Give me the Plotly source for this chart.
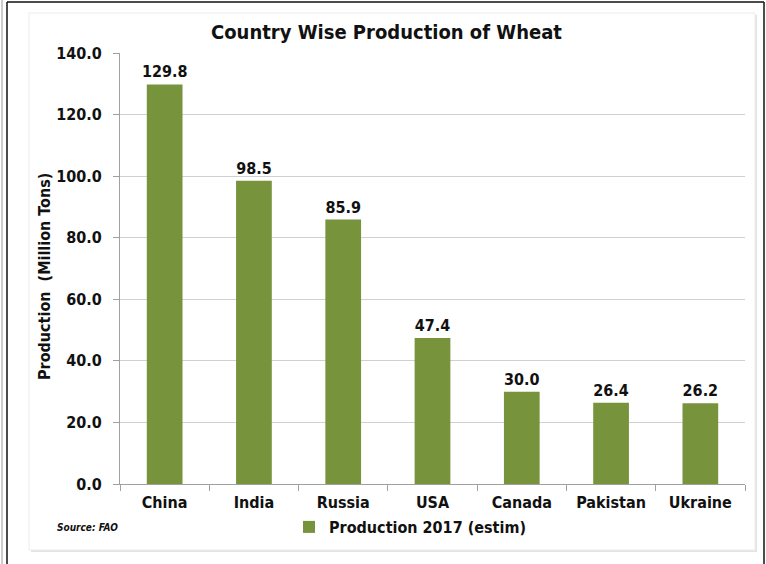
import plotly.graph_objects as go

countries = ["China", "India", "Russia", "USA", "Canada", "Pakistan", "Ukraine"]
production = [129.8, 98.5, 85.9, 47.4, 30.0, 26.4, 26.2]
series_name = "Production 2017 (estim)"
y_ticks = [0, 20, 40, 60, 80, 100, 120, 140]

W, H = 766, 564
ML, MR, MT, MB = 120, 21, 53, 80
PW, PH = W - ML - MR, H - MT - MB

def px(x):
    return (x - ML) / PW

def py(y):
    return (H - MB - y) / PH

FONT = "DejaVu Sans Condensed, Liberation Sans Narrow, Arial Narrow, sans-serif"
GREEN = "#77933C"

fig = go.Figure()
fig.add_trace(go.Bar(
    x=countries, y=production, name=series_name,
    marker=dict(color=GREEN, line=dict(width=0)),
    width=0.4,
    text=[f"{v:.1f}" for v in production],
    textposition="outside",
    constraintext="none",
    textfont=dict(family=FONT, size=16, color="#111111"),
    cliponaxis=False,
    showlegend=True,
    hoverinfo="skip",
))

shapes = [
    # panel shadow
    dict(type="rect", xref="paper", yref="paper", layer="below",
         x0=px(31), x1=px(757), y0=py(552), y1=py(15),
         line=dict(width=0), fillcolor="#e4e4e4"),
    dict(type="rect", xref="paper", yref="paper", layer="below",
         x0=px(29), x1=px(755), y0=py(550), y1=py(13),
         line=dict(width=1, color="#ececec"), fillcolor="white"),
    # outer frame
    dict(type="line", xref="paper", yref="paper", x0=px(2), x1=px(2), y0=py(564), y1=py(0),
         line=dict(color="#9a9a9a", width=1)),
    dict(type="line", xref="paper", yref="paper", x0=px(7), x1=px(7), y0=py(564), y1=py(2),
         line=dict(color="#111111", width=1.5)),
    dict(type="line", xref="paper", yref="paper", x0=px(7), x1=px(764), y0=py(2), y1=py(2),
         line=dict(color="#111111", width=1.5)),
    dict(type="line", xref="paper", yref="paper", x0=px(764), x1=px(764), y0=py(564), y1=py(2),
         line=dict(color="#111111", width=1.5)),
]

annotations = [
    dict(text="Country Wise Production of Wheat", xref="paper", yref="paper",
         x=px(386), y=py(32), showarrow=False, xanchor="center", yanchor="middle",
         font=dict(family=FONT, size=20, color="#111111")),
    dict(text="Production  (Million Tons)", xref="paper", yref="paper",
         x=px(44), y=py(277), showarrow=False, textangle=-90,
         xanchor="center", yanchor="middle",
         font=dict(family=FONT, size=16, color="#111111")),
    dict(text="<b><i>Source: FAO</i></b>", xref="paper", yref="paper",
         x=px(55), y=py(527), showarrow=False, xanchor="left", yanchor="middle",
         font=dict(family=FONT, size=10, color="#111111")),
]

fig.update_layout(
    width=W, height=H,
    margin=dict(l=ML, r=MR, t=MT, b=MB),
    paper_bgcolor="white", plot_bgcolor="white",
    font=dict(family=FONT, size=16, color="#111111", weight="bold"),
    shapes=shapes, annotations=annotations,
    bargap=0.6,
    legend=dict(orientation="h", x=px(410), y=py(527), xanchor="center", yanchor="middle",
                font=dict(family=FONT, size=16, color="#111111"),
                bgcolor="rgba(0,0,0,0)", itemwidth=30),
    showlegend=True,
    hovermode=False,
)
fig.update_yaxes(
    range=[0, 140], tickvals=y_ticks, ticktext=[f"{v:.1f}" for v in y_ticks],
    showgrid=True, gridcolor="#d0d0d0", gridwidth=1,
    showline=True, linecolor="#a0a0a0", linewidth=1,
    ticks="outside", ticklen=6, tickcolor="#a0a0a0",
    ticklabelstandoff=8, zeroline=False,
    tickfont=dict(family=FONT, size=16, color="#111111"),
)
fig.update_xaxes(
    showline=True, linecolor="#a0a0a0", linewidth=1,
    ticks="outside", ticklen=6, tickcolor="#a0a0a0", tickson="boundaries",
    tickfont=dict(family=FONT, size=16, color="#111111"),
    ticklabelstandoff=4,
)

fig.write_html("out.html", config={"displayModeBar": False},
               post_script="document.body.style.margin='0px';document.body.style.overflow='hidden';")
